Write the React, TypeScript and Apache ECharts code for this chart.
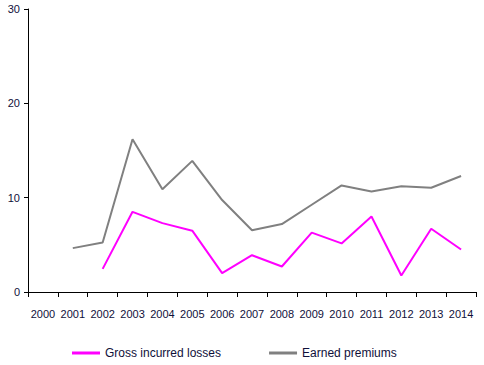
import React, { useEffect, useRef } from "react";
import * as echarts from "echarts";

const years = ["2000","2001","2002","2003","2004","2005","2006","2007","2008","2009","2010","2011","2012","2013","2014"];
const grossIncurredLosses = [null, null, 2.45, 8.5, 7.3, 6.5, 2.0, 3.9, 2.7, 6.3, 5.15, 8.0, 1.75, 6.7, 4.5];
const earnedPremiums = [null, 4.65, 5.25, 16.2, 10.9, 13.9, 9.75, 6.55, 7.2, 9.25, 11.3, 10.65, 11.2, 11.05, 12.3];
const yTicks = { min: 0, max: 30, interval: 10 };

const FONT = "Liberation Sans";
const TXT = "#10103a";

export default function App() {
  const ref = useRef<HTMLDivElement>(null);
  useEffect(() => {
    const chart = echarts.init(ref.current!, null, { renderer: "svg" });
    chart.setOption({
      animation: false,
      backgroundColor: "#ffffff",
      textStyle: { fontFamily: FONT },
      grid: { left: 28, right: 8, top: 9, bottom: 73, containLabel: false },
      legend: {
        left: 67,
        top: 342,
        itemWidth: 28,
        itemHeight: 3,
        itemGap: 48,
        icon: "rect",
        textStyle: { fontFamily: FONT, fontSize: 12, color: TXT },
        data: ["Gross incurred losses", "Earned premiums"],
      },
      xAxis: {
        type: "category",
        data: years,
        boundaryGap: true,
        axisLine: { lineStyle: { color: "#000", width: 1 } },
        axisTick: { show: true, length: 5, lineStyle: { color: "#000" } },
        axisLabel: { fontFamily: FONT, fontSize: 11, color: TXT, margin: 16, interval: 0 },
        splitLine: { show: false },
      },
      yAxis: {
        type: "value",
        min: yTicks.min,
        max: yTicks.max,
        interval: yTicks.interval,
        axisLine: { show: true, lineStyle: { color: "#000", width: 1 } },
        axisTick: { show: true, length: 4, lineStyle: { color: "#000" } },
        axisLabel: { fontFamily: FONT, fontSize: 11, color: TXT, margin: 8 },
        splitLine: { show: false },
      },
      series: [
        {
          name: "Gross incurred losses",
          type: "line",
          data: grossIncurredLosses,
          showSymbol: false,
          symbol: "none",
          lineStyle: { color: "#ff00ff", width: 2 },
          itemStyle: { color: "#ff00ff" },
        },
        {
          name: "Earned premiums",
          type: "line",
          data: earnedPremiums,
          showSymbol: false,
          symbol: "none",
          lineStyle: { color: "#808080", width: 2 },
          itemStyle: { color: "#808080" },
        },
      ],
    });
    return () => chart.dispose();
  }, []);
  return <div ref={ref} style={{ width: 484, height: 365, position: "absolute", left: 0, top: 0 }} />;
}
